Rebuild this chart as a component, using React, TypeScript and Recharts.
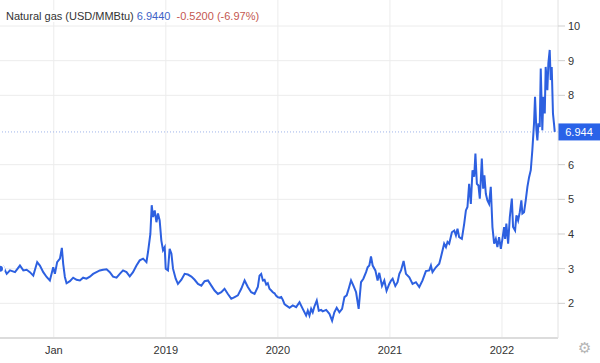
import React from 'react';
import { LineChart, Line, XAxis, YAxis, CartesianGrid, ReferenceLine } from 'recharts';

// time as decimal years
const dates = [
  2017.52, 2017.549, 2017.58, 2017.609, 2017.654, 2017.698, 2017.728, 2017.758, 2017.787, 2017.817,
  2017.852, 2017.876, 2017.906, 2017.936, 2017.965, 2017.995, 2018.01, 2018.03, 2018.055, 2018.072,
  2018.084, 2018.099, 2018.114, 2018.144, 2018.173, 2018.203, 2018.233, 2018.262, 2018.292, 2018.322,
  2018.351, 2018.381, 2018.411, 2018.44, 2018.471, 2018.5, 2018.529, 2018.56, 2018.589, 2018.618,
  2018.649, 2018.678, 2018.707, 2018.738, 2018.767, 2018.797, 2018.827, 2018.841, 2018.862, 2018.874,
  2018.886, 2018.901, 2018.916, 2018.93, 2018.945, 2018.96, 2018.975, 2018.99, 2018.999, 2019.019,
  2019.034, 2019.05, 2019.064, 2019.088, 2019.108, 2019.139, 2019.168, 2019.197, 2019.228, 2019.257,
  2019.287, 2019.317, 2019.346, 2019.376, 2019.406, 2019.435, 2019.465, 2019.495, 2019.524, 2019.554,
  2019.584, 2019.614, 2019.643, 2019.673, 2019.703, 2019.732, 2019.762, 2019.792, 2019.821, 2019.836,
  2019.851, 2019.866, 2019.881, 2019.896, 2019.91, 2019.925, 2019.941, 2019.955, 2019.97, 2019.985,
  2019.999, 2020.014, 2020.03, 2020.044, 2020.059, 2020.074, 2020.104, 2020.133, 2020.163, 2020.193,
  2020.222, 2020.252, 2020.267, 2020.282, 2020.297, 2020.311, 2020.326, 2020.347, 2020.365, 2020.386,
  2020.4, 2020.431, 2020.46, 2020.484, 2020.504, 2020.525, 2020.549, 2020.573, 2020.594, 2020.614,
  2020.632, 2020.653, 2020.674, 2020.698, 2020.721, 2020.742, 2020.763, 2020.787, 2020.801, 2020.816,
  2020.831, 2020.846, 2020.87, 2020.89, 2020.905, 2020.929, 2020.95, 2020.97, 2020.994, 2021.01,
  2021.024, 2021.048, 2021.068, 2021.084, 2021.099, 2021.122, 2021.143, 2021.173, 2021.202, 2021.232,
  2021.262, 2021.291, 2021.321, 2021.351, 2021.366, 2021.38, 2021.41, 2021.44, 2021.455, 2021.484,
  2021.5, 2021.514, 2021.529, 2021.553, 2021.574, 2021.589, 2021.603, 2021.618, 2021.642, 2021.663,
  2021.678, 2021.692, 2021.707, 2021.722, 2021.737, 2021.752, 2021.763, 2021.776, 2021.79, 2021.802,
  2021.811, 2021.82, 2021.832, 2021.843, 2021.856, 2021.87, 2021.885, 2021.9, 2021.915, 2021.93,
  2021.945, 2021.959, 2021.974, 2021.99, 2022.004, 2022.019, 2022.028, 2022.039, 2022.055, 2022.07,
  2022.088, 2022.099, 2022.117, 2022.129, 2022.144, 2022.159, 2022.173, 2022.182, 2022.197, 2022.212,
  2022.227, 2022.242, 2022.257, 2022.271, 2022.286, 2022.295, 2022.307, 2022.316, 2022.325, 2022.337,
  2022.346, 2022.36, 2022.369, 2022.382, 2022.39, 2022.405, 2022.414, 2022.426, 2022.435, 2022.444,
  2022.455, 2022.464, 2022.471,
];

// USD/MMBtu
const prices = [
  3.0, 3.06, 2.85, 2.95, 2.9, 3.09, 2.95, 2.97, 2.9, 2.8,
  3.19, 3.09, 2.9, 2.76, 2.66, 3.04, 2.85, 3.19, 3.29, 3.6,
  3.14, 2.76, 2.58, 2.64, 2.74, 2.68, 2.66, 2.74, 2.71, 2.77,
  2.85, 2.9, 2.95, 2.97, 2.98, 2.9, 2.77, 2.74, 2.85, 2.95,
  2.9, 2.78, 2.9, 3.09, 3.24, 3.29, 3.19, 3.48, 4.0, 4.83,
  4.49, 4.68, 4.34, 4.59, 4.39, 3.81, 3.53, 3.62, 3.0, 2.95,
  3.57, 3.43, 3.0, 2.71, 2.56, 2.68, 2.85, 2.83, 2.77, 2.68,
  2.56, 2.51, 2.64, 2.66, 2.51, 2.37, 2.27, 2.32, 2.42, 2.27,
  2.13, 2.18, 2.23, 2.42, 2.66, 2.47, 2.32, 2.27, 2.47, 2.8,
  2.85, 2.66, 2.68, 2.54, 2.58, 2.42, 2.37, 2.32, 2.29, 2.22,
  2.18, 2.16, 2.18, 2.1, 1.98, 1.94, 1.87, 1.94, 1.89, 2.03,
  1.84, 1.65, 1.79, 1.65, 1.84, 1.74, 1.91, 2.08, 1.79, 1.81,
  1.77, 1.81, 1.7, 1.5, 1.74, 1.87, 1.74, 1.84, 2.18, 2.23,
  2.42, 2.66, 2.51, 2.32, 1.84, 2.61, 2.71, 2.9, 3.04, 3.09,
  3.35, 3.09, 2.95, 2.66, 2.88, 2.5, 2.66, 2.36, 2.56, 2.66,
  2.71, 2.5, 2.61, 2.85, 2.95, 3.22, 2.85, 2.75, 2.56, 2.61,
  2.47, 2.66, 2.93, 2.95, 3.09, 2.9, 3.04, 3.14, 3.33, 3.72,
  3.62, 3.77, 3.72, 4.05, 4.1, 3.96, 4.15, 3.91, 3.86, 4.3,
  4.68, 4.78, 5.45, 4.87, 5.84, 5.65, 6.32, 5.45, 5.4, 5.02,
  5.55, 6.18, 5.31, 5.69, 5.16, 4.97, 4.87, 5.36, 4.2, 3.72,
  3.86, 3.62, 3.91, 3.57, 3.86, 4.2, 3.86, 4.3, 3.72, 4.49,
  5.02, 4.2, 4.1, 4.54, 4.39, 4.63, 4.97, 4.59, 4.63, 4.97,
  5.36, 5.64, 5.84, 6.42, 7.19, 7.96, 7.0, 6.7, 7.19, 7.09,
  8.77, 6.99, 7.96, 7.48, 8.82, 8.15, 8.92, 9.31, 8.44, 8.82,
  7.48, 7.19, 6.944,
];

const yearTicks = [2018, 2019, 2020, 2021, 2022];
const yearLabels = ['Jan', '2019', '2020', '2021', '2022'];
const priceTicks = [2, 3, 4, 5, 6, 8, 9, 10];
const lastPrice = 6.944;

const data = dates.map((t, i) => ({ t, price: prices[i] }));

const FONT = '"Liberation Sans", Arial, sans-serif';

const PriceTag = (props: any) => {
  const { viewBox } = props;
  const x = viewBox.x + viewBox.width;
  const y = viewBox.y;
  return (
    <g>
      <rect x={x} y={y - 8.5} width={42} height={17} fill="#2962e8" />
      <text x={x + 21} y={y + 4} textAnchor="middle" fill="#fff" fontSize={11} fontFamily={FONT}>
        {lastPrice.toFixed(3)}
      </text>
    </g>
  );
};

const App: React.FC = () => {
  return (
    <div style={{ position: 'absolute', left: 0, top: 0, width: 600, height: 363, background: '#fff', fontFamily: FONT }}>
      <LineChart width={600} height={363} data={data} margin={{ top: 0, right: 0, left: 0, bottom: 0 }}>
        <CartesianGrid stroke="#ececec" horizontalValues={priceTicks} verticalValues={yearTicks} />
        <XAxis
          dataKey="t"
          type="number"
          domain={[2017.52, 2022.5]}
          ticks={yearTicks}
          tickFormatter={(v: number) => yearLabels[yearTicks.indexOf(v)]}
          height={25}
          tickLine={false}
          axisLine={{ stroke: '#dcdcdc', strokeWidth: 2 }}
          tick={{ fill: '#333', fontSize: 11, fontFamily: FONT }}
          allowDataOverflow
        />
        <YAxis
          orientation="right"
          type="number"
          domain={[1, 10.75]}
          ticks={priceTicks}
          width={42}
          tickSize={7}
          tickMargin={3}
          tickLine={{ stroke: '#cfcfcf' }}
          axisLine={{ stroke: '#e2e2e2' }}
          tick={{ fill: '#333', fontSize: 11, fontFamily: FONT, textAnchor: 'start' }}
          allowDataOverflow
        />
        <ReferenceLine y={lastPrice} stroke="#9fb5ea" strokeDasharray="1 2" label={<PriceTag />} />
        <Line type="linear" dataKey="price" stroke="#2d60e0" strokeWidth={2} dot={false} isAnimationActive={false} />
      </LineChart>
      <div
        style={{
          position: 'absolute',
          left: 6,
          top: 10,
          fontSize: 11,
          lineHeight: '12px',
          background: '#fff',
          color: '#333',
          whiteSpace: 'nowrap',
        }}
      >
        Natural gas (USD/MMBtu) <span style={{ color: '#4062c6' }}>6.9440</span>{' '}
        <span style={{ color: '#c4574f', marginLeft: 3 }}>-0.5200 (-6.97%)</span>
      </div>
      <div style={{ position: 'absolute', left: 578, top: 339, fontSize: 15, color: '#b5b5b5', fontFamily: '"DejaVu Sans"' }}>
        ⚙
      </div>
    </div>
  );
};

export default App;
